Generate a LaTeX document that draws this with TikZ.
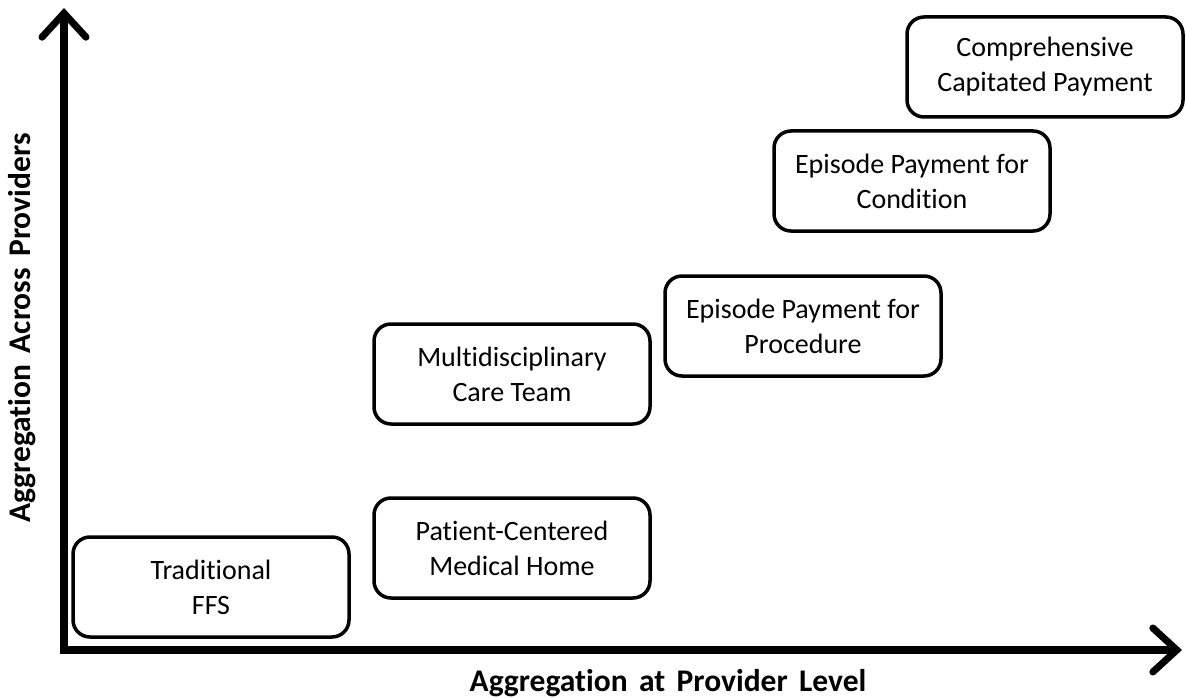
\documentclass[tikz,border=0pt]{standalone}
\usepackage{fontspec}
\setmainfont{Carlito}[Ligatures=NoCommon]
\newfontfamily\axlabelfont{Carlito}[Ligatures=NoCommon,WordSpace=1.6]
\usetikzlibrary{arrows.meta}
\begin{document}
\begin{tikzpicture}[x=1pt,y=-1pt,
  stage/.style={draw=black,line width=3.5pt,rounded corners=17pt,minimum width=276pt,minimum height=100pt,align=center,font=\fontsize{28}{35}\selectfont,inner sep=0pt},
  axis/.style={line width=7.5pt,-{Straight Barb[length=24pt,width=44pt,line width=7pt,line cap=round]}},
  axlabel/.style={font=\axlabelfont\bfseries\fontsize{31.5}{36}\selectfont}]
\useasboundingbox (0,0) rectangle (1186,698);
\coordinate (ytop) at (64,8);
\coordinate (xend) at (1182,650);
\draw[axis] (64,654) -- (ytop);
\draw[axis] (60,650) -- (xend);
\node[stage] (ffs) at (211,587) {Traditional\\FFS};
\node[stage] (pcmh) at (512,548) {Patient-Centered\\Medical Home};
\node[stage] (mct) at (512,374) {Multidisciplinary\\Care Team};
\node[stage] (epp) at (803,326) {Episode Payment for\\Procedure};
\node[stage] (epc) at (912,181) {Episode Payment for\\Condition};
\node[stage] (ccp) at (1045,67) {Comprehensive\\Capitated Payment};
\node[axlabel] (xl) at (668,683) {Aggregation at Provider Level};
\node[axlabel,rotate=90] (yl) at (22,328) {Aggregation Across Providers};
\end{tikzpicture}
\end{document}
